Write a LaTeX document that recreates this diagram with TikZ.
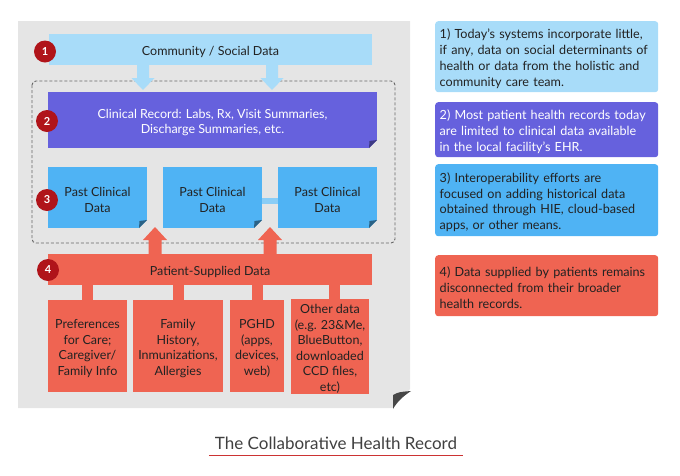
\documentclass[tikz,border=0pt]{standalone}
\usepackage{fontspec}
\setmainfont{Lato}
\usetikzlibrary{calc}
\definecolor{lblue}{HTML}{A8DCF9}
\definecolor{purp}{HTML}{6661DD}
\definecolor{bblue}{HTML}{4FB3F4}
\definecolor{bbar}{HTML}{8ACDF6}
\definecolor{coral}{HTML}{EF6452}
\definecolor{panelgray}{HTML}{E5E5E5}
\definecolor{badgered}{HTML}{B0141A}
\definecolor{txt}{HTML}{222222}
\newcommand{\foldcorner}[4]{%
  \fill[panelgray] (#1,#2-#3) -- (#1,#2) -- (#1-#3,#2) -- cycle;
  \fill[#4] (#1,#2-#3) -- (#1-#3,#2) -- (#1-#3+0.5,#2-#3+1) -- cycle;}
\newcommand{\boxtext}[3][]{\node[blktext,#1] (#2-t) at ([yshift=-2.5pt]#2.center) {#3};}
\tikzset{
  blk/.style={inner sep=0pt},
  blktext/.style={inner sep=0pt, align=center, text=txt, font=\fontsize{12.5}{15.5}\selectfont},
  badge/.style={circle, fill=badgered, minimum size=22pt, inner sep=0pt, text=white, font=\fontsize{11}{12}\selectfont\bfseries},
  note/.style={rounded corners=3pt, minimum width=223pt, inner sep=0pt, anchor=north west},
  notetext/.style={text width=215pt, inner sep=0pt, align=left, text=txt, font=\fontsize{12.6}{15.7}\selectfont},
}
\begin{document}
\begin{tikzpicture}[x=1pt,y=-1pt]
\useasboundingbox (0,0) rectangle (680,475);
% gray panel
\fill[panelgray] (18,21) -- (410,21) -- (410,389) -- (393,408) -- (18,408) -- cycle;
\fill[black!72] (411,391) .. controls (402,397) and (397,402) .. (393,409) -- (393,395) .. controls (399,392) .. (411,391) -- cycle;
% dashed frame
\draw[black!60, line width=0.9pt, dash pattern=on 3pt off 2pt, rounded corners=4pt] (32,81) rectangle (395,243);
% community
\node[blk, fill=lblue, minimum width=323pt, minimum height=31pt] (comm) at (210.5,49.5) {};
\boxtext{comm}{Community / Social Data}
% clinical
\node[blk, fill=purp, minimum width=329pt, minimum height=56pt] (clin) at (212.5,120) {};
\boxtext[text=white]{clin}{Clinical Record: Labs, Rx, Visit Summaries,\\Discharge Summaries, etc.}
\foldcorner{377}{148}{8}{purp!60!black}
% arrows community -> clinical
\foreach \ax in {143,272}{
  \fill[lblue] (\ax-6,65) -- (\ax+6,65) -- (\ax+6,78) -- (\ax+11.5,78) -- (\ax,90) -- (\ax-11.5,78) -- (\ax-6,78) -- cycle;
}
% past clinical
\node[blk, fill=bblue, minimum width=99pt, minimum height=61pt] (p1) at (97.5,197.5) {};
\node[blk, fill=bblue, minimum width=99pt, minimum height=61pt] (p2) at (212.5,197.5) {};
\node[blk, fill=bblue, minimum width=99pt, minimum height=61pt] (p3) at (327.5,197.5) {};
\boxtext{p1}{Past Clinical\\Data}
\boxtext{p2}{Past Clinical\\Data}
\boxtext{p3}{Past Clinical\\Data}
\foreach \px in {147,262,377}{\foldcorner{\px}{228}{8}{bblue!55!black}}
\fill[bbar] ($(p2.east)+(0,0.5)$) rectangle ($(p3.west)+(0,6.5)$);
% patient bar
\node[blk, fill=coral, minimum width=324pt, minimum height=31pt] (pat) at (210,269.5) {};
\boxtext{pat}{Patient-Supplied Data}
% up arrows
\foreach \ax in {155,270}{
  \fill[coral] (\ax-6.5,254) -- (\ax+6.5,254) -- (\ax+6.5,240) -- (\ax+12,240) -- (\ax,227) -- (\ax-12,240) -- (\ax-6.5,240) -- cycle;
}
% sub boxes
\node[blk, fill=coral, minimum width=79pt, minimum height=92pt] (sa) at (87.5,346) {};
\node[blk, fill=coral, minimum width=90pt, minimum height=92pt] (sb) at (178,346) {};
\node[blk, fill=coral, minimum width=54pt, minimum height=92pt] (sc) at (257,346) {};
\node[blk, fill=coral, minimum width=78pt, minimum height=95pt] (sd) at (330,346.5) {};
\boxtext{sa}{Preferences\\for Care;\\Caregiver/\\Family Info}
\boxtext{sb}{Family\\History,\\Inmunizations,\\Allergies}
\boxtext{sc}{PGHD\\(apps,\\devices,\\web)}
\boxtext{sd}{Other data\\(e.g. 23\&Me,\\BlueButton,\\downloaded\\CCD files,\\etc)}
\foreach \s/\o in {sa/0,sb/0,sc/0,sd/4}{
  \fill[coral] ($(\s.north)+(\o-5.5,0.5)$) rectangle ($(\s.north |- pat.south)+(\o+5.5,-0.5)$);
}
% badges
\node[badge] (b1) at (45,51.5) {1};
\node[badge] (b2) at (47,121) {2};
\node[badge] (b3) at (47,200) {3};
\node[badge] (b4) at (48,270) {4};
% notes
\node[note, fill=lblue, minimum height=71pt] (n1) at (435,21) {};
\node[notetext] (n1-t) at ([xshift=0.5pt,yshift=-2pt]n1.center) {1) Today’s systems incorporate little,\\if any, data on social determinants of\\health or data from the holistic and\\community care team.};
\node[note, fill=purp, minimum height=55pt] (n2) at (435,102) {};
\node[notetext, text=white] (n2-t) at ([xshift=0.5pt,yshift=-2pt]n2.center) {2) Most patient health records today\\are limited to clinical data available\\in the local facility’s EHR.};
\node[note, fill=bblue, minimum height=72pt] (n3) at (435,164) {};
\node[notetext] (n3-t) at ([xshift=0.5pt,yshift=-2pt]n3.center) {3) Interoperability efforts are\\focused on adding historical data\\obtained through HIE, cloud-based\\apps, or other means.};
\node[note, fill=coral, minimum height=61pt] (n4) at (435,255) {};
\node[notetext] (n4-t) at ([xshift=0.5pt,yshift=-2pt]n4.center) {4) Data supplied by patients remains\\disconnected from their broader\\health records.};
% title
\node[inner sep=0pt, text=black!75, font=\fontsize{17}{20}\selectfont] (title) at (336,443) {The Collaborative Health Record};
\draw[red!75!black!80, line width=0.7pt] ($(title.west)+(-6,12)$) -- ($(title.east)+(6,12)$);
\end{tikzpicture}
\end{document}
